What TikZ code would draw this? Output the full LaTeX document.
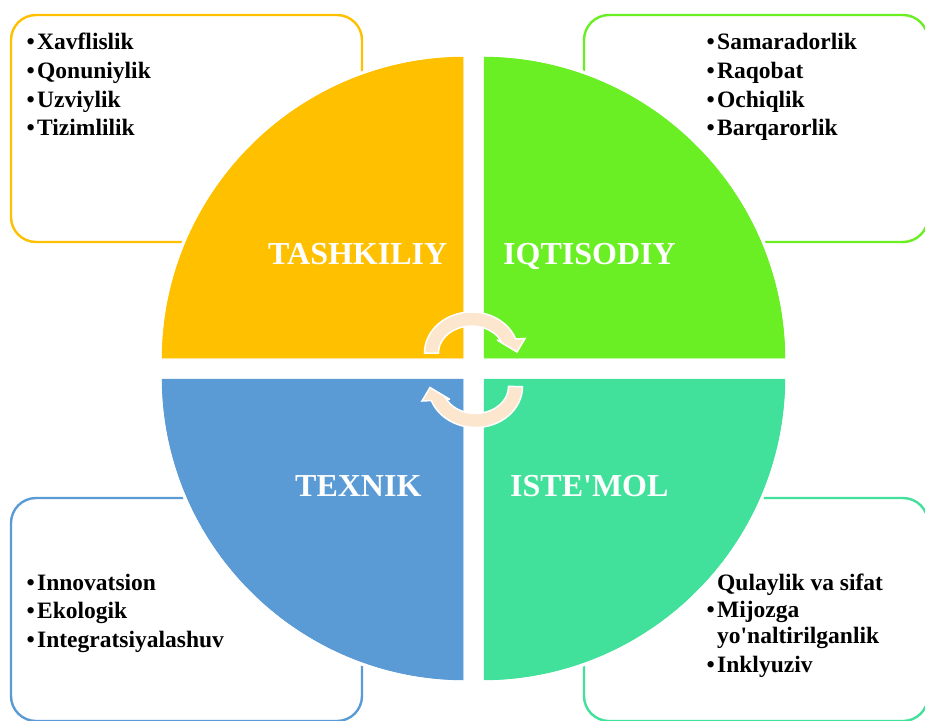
\documentclass[tikz,border=0pt]{standalone}
\usepackage{fontspec}
\newfontfamily\lsb{Liberation Serif}[Ligatures=NoCommon]
\definecolor{qyellow}{RGB}{255,192,0}
\definecolor{qgreen}{RGB}{106,238,36}
\definecolor{qblue}{RGB}{91,155,213}
\definecolor{qteal}{RGB}{66,225,155}
\definecolor{peach}{RGB}{252,230,206}
\tikzset{
  listbox/.style={line width=2.4pt, rounded corners=25pt, fill=white},
  quad/.style={draw=white, line width=3pt},
  qlabel/.style={anchor=base west, inner sep=0pt, text=white, font=\lsb\bfseries\fontsize{32}{36}\selectfont},
  item/.style={anchor=base west, inner sep=0pt, font=\lsb\bfseries\fontsize{23.5}{28}\selectfont},
  cyclarrow/.style={fill=peach, draw=white, line width=1.5pt, line join=miter},
}
\newcommand{\bul}{\makebox[11pt][l]{\hspace{0.5pt}•}}
\begin{document}
\begin{tikzpicture}[x=1pt,y=-1pt]
\useasboundingbox (0,0) rectangle (925,720);
\clip (0,0) rectangle (925,720);
% list boxes
\draw[listbox, draw=qyellow] (11,15) rectangle (362,242);
\draw[listbox, draw=qgreen] (584,15) rectangle (928,242);
\draw[listbox, draw=qblue] (11,498) rectangle (362,721);
\draw[listbox, draw=qteal] (584,498) rectangle (928,721);
% quadrants
\fill[quad, fill=qyellow] (465,360) -- (160,360) arc[start angle=180, end angle=270, radius=305] -- cycle;
\fill[quad, fill=qgreen] (482,360) -- (482,55) arc[start angle=270, end angle=360, radius=305] -- cycle;
\fill[quad, fill=qteal] (482,377) -- (787,377) arc[start angle=0, end angle=90, radius=305] -- cycle;
\fill[quad, fill=qblue] (465,377) -- (465,682) arc[start angle=90, end angle=180, radius=305] -- cycle;
\draw[quad] (465,360) -- (160,360) arc[start angle=180, end angle=270, radius=305] -- cycle;
\draw[quad] (482,360) -- (482,55) arc[start angle=270, end angle=360, radius=305] -- cycle;
\draw[quad] (482,377) -- (787,377) arc[start angle=0, end angle=90, radius=305] -- cycle;
\draw[quad] (465,377) -- (465,682) arc[start angle=90, end angle=180, radius=305] -- cycle;
% labels
\node[qlabel] (lt) at (268,264) {TASHKILIY};
\node[qlabel] (li) at (503,264) {IQTISODIY};
\node[qlabel] (lx) at (295,496) {TEXNIK};
\node[qlabel] (ls) at (510,496) {ISTE'MOL};
% circular arrows
\path[cyclarrow] (424.5,353) arc[start angle=180, end angle=340, x radius=47, y radius=41]
  -- (525,338.5) -- (517,352) -- (497,340) -- (501.4,341.6)
  arc[start angle=335, end angle=180, x radius=33, y radius=27] -- cycle;
\begin{scope}[rotate around={180:(473.5,369.75)}]
\path[cyclarrow] (424.5,353) arc[start angle=180, end angle=340, x radius=47, y radius=41]
  -- (525,338.5) -- (517,352) -- (497,340) -- (501.4,341.6)
  arc[start angle=335, end angle=180, x radius=33, y radius=27] -- cycle;
\end{scope}
% lists
\node[item] (a1) at (26,49) {\bul Xavflislik};
\node[item] (a2) at (26,78) {\bul Qonuniylik};
\node[item] (a3) at (26,107) {\bul Uzviylik};
\node[item] (a4) at (26,135) {\bul Tizimlilik};
\node[item] (b1) at (706,49) {\bul Samaradorlik};
\node[item] (b2) at (706,78) {\bul Raqobat};
\node[item] (b3) at (706,107) {\bul Ochiqlik};
\node[item] (b4) at (706,135) {\bul Barqarorlik};
\node[item] (c1) at (26,590) {\bul Innovatsion};
\node[item] (c2) at (26,618) {\bul Ekologik};
\node[item] (c3) at (26,647) {\bul Integratsiyalashuv};
\node[item] (d1) at (717,590) {Qulaylik va sifat};
\node[item] (d2) at (706,617) {\bul Mijozga};
\node[item] (d3) at (717,643) {yo'naltirilganlik};
\node[item] (d4) at (706,672) {\bul Inklyuziv};
\end{tikzpicture}
\end{document}
